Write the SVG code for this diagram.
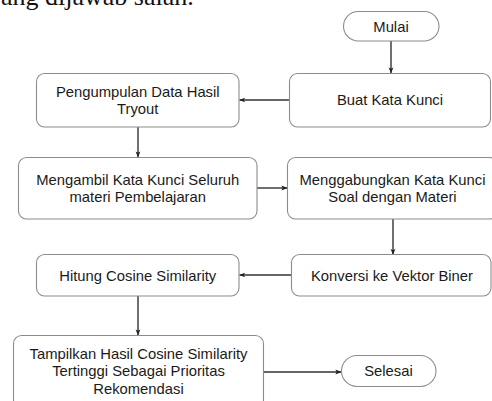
<svg xmlns="http://www.w3.org/2000/svg" width="492" height="401" viewBox="0 0 492 401">
<style>
.box{fill:#fff;stroke:#8c8c8c;stroke-width:1.1}
.t{font-family:"Liberation Sans",Arial,sans-serif;font-size:14.8px;fill:#1a1a1a;text-anchor:middle;dominant-baseline:central}
.e{fill:none;stroke:#333;stroke-width:1.4}
.cap{font-family:"Liberation Serif","Times New Roman",serif;font-size:26px;fill:#111}
</style>
<defs>
<marker id="ah" viewBox="0 0 8 8" refX="7.5" refY="4" markerWidth="6" markerHeight="6" markerUnits="userSpaceOnUse" orient="auto">
<path d="M0,0.8 L8,4 L0,7.2 L1.8,4 z" fill="#222"/>
</marker>
</defs>
<rect width="492" height="401" fill="#fff"/>
<text class="cap" x="1" y="5">ang dijawab salah.</text>
<g id="connectors">
<path class="e" d="M391,41 V73" marker-end="url(#ah)"/>
<path class="e" d="M289,100 H239.5" marker-end="url(#ah)"/>
<path class="e" d="M138,127 V157" marker-end="url(#ah)"/>
<path class="e" d="M257,188 H287" marker-end="url(#ah)"/>
<path class="e" d="M393,219 V254.5" marker-end="url(#ah)"/>
<path class="e" d="M291,275 H239.5" marker-end="url(#ah)"/>
<path class="e" d="M138,296 V335" marker-end="url(#ah)"/>
<path class="e" d="M263.5,372 H341" marker-end="url(#ah)"/>
</g>
<g id="mulai">
<rect class="box" x="343.5" y="11.5" width="95.5" height="29.5" rx="14.75"/>
<text class="t" x="391" y="26.5">Mulai</text>
</g>
<g id="buat">
<rect class="box" x="289.5" y="73.5" width="201" height="53.5" rx="8"/>
<text class="t" x="390" y="100">Buat Kata Kunci</text>
</g>
<g id="pengumpulan">
<rect class="box" x="36.5" y="73.5" width="202.5" height="53.5" rx="8"/>
<text class="t" x="137.75" y="91.5">Pengumpulan Data Hasil</text>
<text class="t" x="137.75" y="109">Tryout</text>
</g>
<g id="mengambil">
<rect class="box" x="18.5" y="157.5" width="238.5" height="61.5" rx="8"/>
<text class="t" x="137.75" y="179.5">Mengambil Kata Kunci Seluruh</text>
<text class="t" x="137.75" y="197">materi Pembelajaran</text>
</g>
<g id="menggabungkan">
<rect class="box" x="287.5" y="157.5" width="210" height="61.5" rx="8"/>
<text class="t" x="392.5" y="179.5">Menggabungkan Kata Kunci</text>
<text class="t" x="392.5" y="197">Soal dengan Materi</text>
</g>
<g id="konversi">
<rect class="box" x="291.5" y="254.5" width="199.5" height="41.5" rx="8"/>
<text class="t" x="392" y="275.5">Konversi ke Vektor Biner</text>
</g>
<g id="hitung">
<rect class="box" x="36.5" y="254.5" width="202.5" height="41.5" rx="8"/>
<text class="t" x="137.75" y="275.5">Hitung Cosine Similarity</text>
</g>
<g id="tampilkan">
<rect class="box" x="13.5" y="335.5" width="250" height="72" rx="8"/>
<text class="t" x="138.5" y="353.5">Tampilkan Hasil Cosine Similarity</text>
<text class="t" x="138.5" y="371">Tertinggi Sebagai Prioritas</text>
<text class="t" x="138.5" y="388.5">Rekomendasi</text>
</g>
<g id="selesai">
<rect class="box" x="341.5" y="355.5" width="94.5" height="31" rx="15.5"/>
<text class="t" x="388.5" y="371">Selesai</text>
</g>
</svg>
